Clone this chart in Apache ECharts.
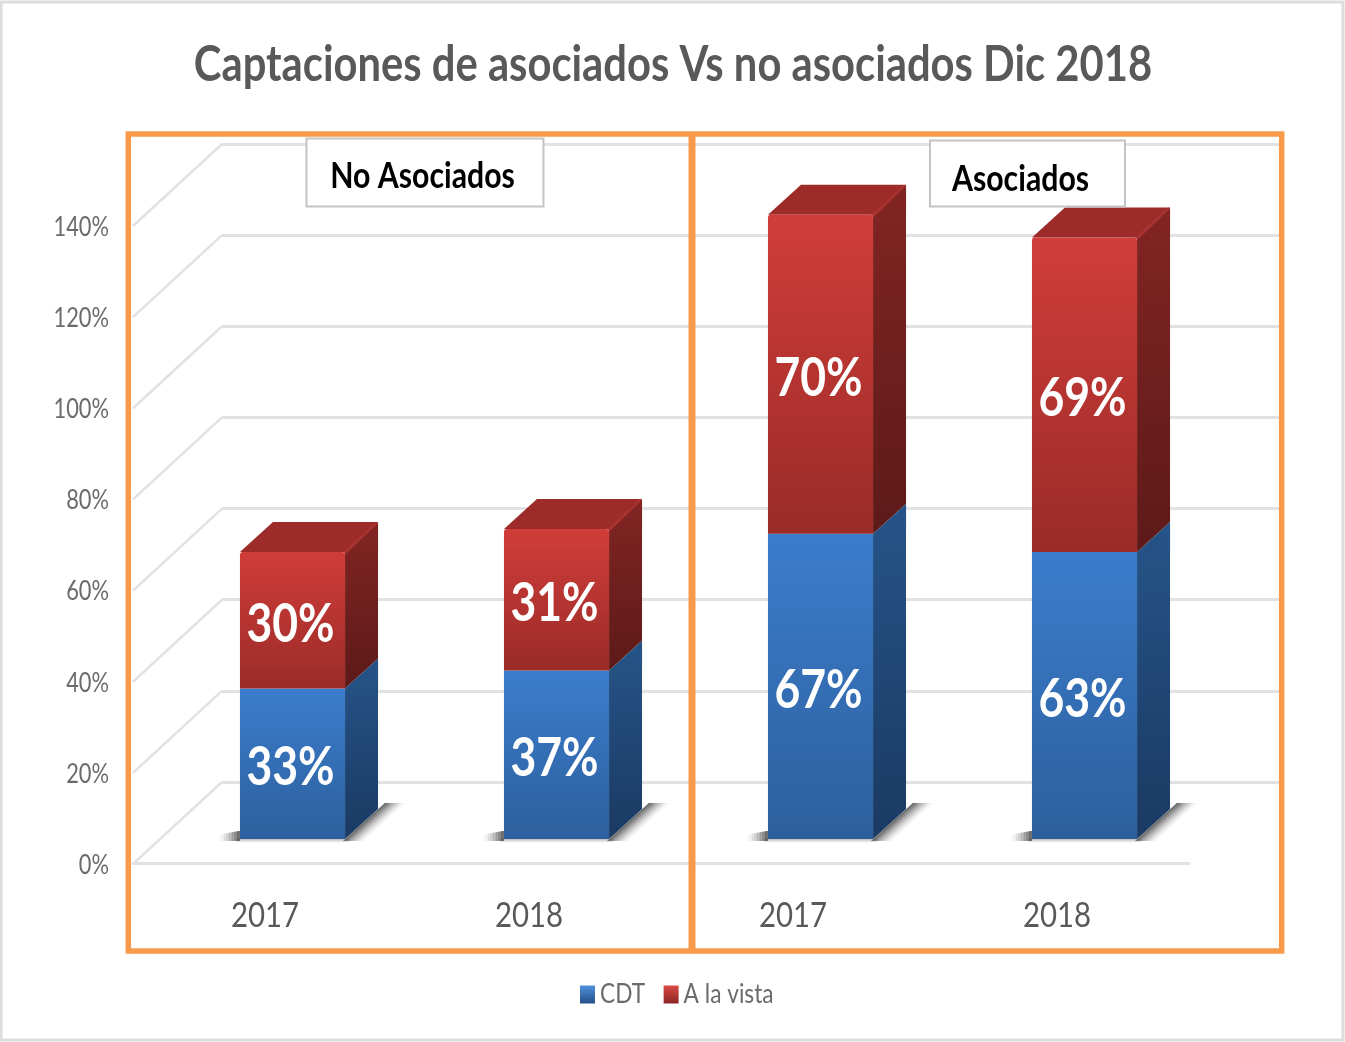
<!DOCTYPE html>
<html>
<head>
<meta charset="utf-8">
<style>html,body{margin:0;padding:0;background:#fff}#c{width:1345px;height:1042px}#c canvas{filter:blur(0.55px)}</style>
<script src="https://cdn.jsdelivr.net/npm/echarts@6/dist/echarts.min.js"></script>
</head>
<body>
<div id="c"></div>
<script>
var categories = ['2017', '2018', '2017', '2018'];
var cdtValues = [33, 37, 67, 63];
var vistaValues = [30, 31, 70, 69];
var yTicks = [0, 20, 40, 60, 80, 100, 120, 140];
var panelNames = ['No Asociados', 'Asociados'];
var titleText = 'Captaciones de asociados Vs no asociados Dic 2018';

var FONT = 'Lato,sans-serif';
var TEXT_SQUEEZE = 0.84;
var DX = 33, DY = -30, ORANGE = '#f99a4a', GRID = '#e2e2e2';

function grad(a, b) {
  return {type: 'linear', x: 0, y: 0, x2: 0, y2: 1, colorStops: [{offset: 0, color: a}, {offset: 1, color: b}]};
}

function barRenderer(frontGrad, sideGrad, withTop, withShadow) {
  return function (params, api) {
    var i = api.value(0), start = api.value(1), end = api.value(2);
    var p0 = api.coord([i, start]), p1 = api.coord([i, end]);
    var w = api.size([1, 0])[0] * 0.398;
    var xl = p0[0] - w / 2, xr = p0[0] + w / 2, yb = p0[1], yt = p1[1];
    var kids = [];
    if (withShadow) {
      // soft floor shadow, built from fading bands
      var slope = DX / -DY, n = 8, band = 2.6;
      for (var k = 0; k < n; k++) {
        var a = 0.72 * Math.pow(1 - k / n, 1.6);
        var x0 = k * band, x1 = x0 + band + 0.3;
        kids.push({type: 'polygon', silent: true, shape: {points: [
          [xr - 2 + x0, yb + 2], [xr - 2 + x1, yb + 2],
          [xr - 2 + 38 * slope + x1, yb - 36], [xr - 2 + 38 * slope + x0, yb - 36]]},
          style: {fill: 'rgba(55,55,55,' + a.toFixed(3) + ')'}});
        kids.push({type: 'rect', silent: true, shape: {x: xl - x1, y: yb - 8 + k * 0.5, width: band + 0.3, height: 10 - k * 0.5},
          style: {fill: 'rgba(55,55,55,' + a.toFixed(3) + ')'}});
      }
      kids.push({type: 'rect', shape: {x: xl - 4, y: yb, width: w + 8, height: 4},
        style: {fill: grad('rgba(80,80,80,0.4)', 'rgba(120,120,120,0)')}, silent: true});
    }
    kids.push({type: 'polygon', shape: {points: [[xr, yb], [xr + DX, yb + DY], [xr + DX, yt + DY], [xr, yt]]}, style: {fill: sideGrad}});
    if (withTop) {
      kids.push({type: 'polygon', shape: {points: [[xl, yt], [xl + DX, yt + DY], [xr + DX, yt + DY], [xr, yt]]}, style: {fill: '#9c2b29'}});
      kids.push({type: 'polygon', shape: {points: [[xr - 2, yt], [xr + DX - 2, yt + DY], [xr + DX, yt + DY + 1], [xr + 1, yt + 2]]}, style: {fill: '#a8322f'}});
    }
    kids.push({type: 'rect', shape: {x: xl, y: yt, width: w, height: yb - yt, r: withTop ? [3, 3, 0, 0] : 0}, style: {fill: frontGrad}});
    kids.push({type: 'text', style: {
      text: (end - start) + '%', x: p0[0] - 2, y: (yb + yt) / 2 + 4.5, align: 'center', verticalAlign: 'middle',
      fill: '#fff', font: 'bold 53px ' + FONT}, z2: 10});
    return {type: 'group', children: kids};
  };
}

var blueFront = grad('#3b7dcc', '#2d5f9d');
var blueSide = grad('#265488', '#1a3a63');
var redFront = grad('#d13d39', '#9a2b28');
var redSide = grad('#822523', '#5c1a18');

var cdtData = cdtValues.map(function (v, i) { return [i, 0, v]; });
var vistaData = vistaValues.map(function (v, i) { return [i, cdtValues[i], cdtValues[i] + v]; });

var option = {
  animation: false,
  backgroundColor: '#fff',
  title: {
    text: titleText, left: 668, top: 60, textAlign: 'center', textVerticalAlign: 'middle',
    textStyle: {fontFamily: FONT, fontSize: 49.7, fontWeight: 'bold', color: '#595959'}
  },
  legend: {
    left: 580, top: 981, padding: 0, itemWidth: 15, itemHeight: 18, itemGap: 10, icon: 'rect',
    data: ['CDT', 'A la vista'],
    textStyle: {fontFamily: FONT, fontSize: 27, color: '#6b6b6b'}
  },
  grid: [
    {left: 133, width: 1056, top: 225, height: 638},
    {left: 222, width: 1058, top: 144, height: 638},
    {left: 160.5, width: 1056, top: 201, height: 638},
    {left: 133, width: 1056, top: 227.5, height: 638}
  ],
  xAxis: [
    {gridIndex: 0, type: 'category', data: categories, axisTick: {show: false},
      axisLine: {lineStyle: {color: GRID, width: 3}},
      axisLabel: {margin: 35, fontFamily: FONT, fontSize: 35, color: '#595959', interval: 0}},
    {gridIndex: 1, type: 'category', data: categories, show: false},
    {gridIndex: 2, type: 'category', data: categories, show: false},
    {gridIndex: 3, type: 'category', data: categories, show: false}
  ],
  yAxis: [
    {gridIndex: 0, type: 'value', min: 0, max: 140, interval: 20, show: false},
    {gridIndex: 1, type: 'value', min: 0, max: 140, interval: 20, axisLabel: {show: false}, axisLine: {show: false}, axisTick: {show: false},
      splitLine: {show: true, lineStyle: {color: GRID, width: 3}}},
    {gridIndex: 2, type: 'value', min: 0, max: 140, interval: 20, show: false},
    {gridIndex: 3, type: 'value', min: 0, max: 140, interval: 20, splitLine: {show: false}, axisLine: {show: false}, axisTick: {show: false},
      axisLabel: {margin: 24, formatter: '{value}%', fontFamily: FONT, fontSize: 26, color: '#6b6b6b'}}
  ],
  series: [
    {
      type: 'custom', name: 'walls', xAxisIndex: 0, yAxisIndex: 0, silent: true, z: 1,
      data: yTicks.map(function (t) { return [0, t]; }),
      encode: {x: 0, y: 1},
      renderItem: function (params, api) {
        var p = api.coord([0, api.value(1)]);
        return {type: 'line', shape: {x1: params.coordSys.x, y1: p[1] + 1, x2: params.coordSys.x + 89, y2: p[1] - 81},
          style: {stroke: GRID, lineWidth: 2.5}};
      }
    },
    {type: 'custom', name: 'CDT', xAxisIndex: 2, yAxisIndex: 2, z: 3, data: cdtData, encode: {x: 0, y: [1, 2]},
      itemStyle: {color: grad('#4f90dc', '#24508a')}, renderItem: barRenderer(blueFront, blueSide, false, true)},
    {type: 'custom', name: 'A la vista', xAxisIndex: 2, yAxisIndex: 2, z: 4, data: vistaData, encode: {x: 0, y: [1, 2]},
      itemStyle: {color: grad('#dc4a45', '#8a2624')}, renderItem: barRenderer(redFront, redSide, true, false)}
  ],
  graphic: [
    {type: 'rect', z: 20, shape: {x: 1, y: 2, width: 1342, height: 1038}, style: {fill: 'none', stroke: '#dcdcdc', lineWidth: 3}},
    {type: 'rect', z: 21, shape: {x: 128.3, y: 134, width: 1153.4, height: 817}, style: {fill: 'none', stroke: ORANGE, lineWidth: 5.5}},
    {type: 'line', z: 21, shape: {x1: 692, y1: 134, x2: 692, y2: 951}, style: {stroke: ORANGE, lineWidth: 7}},
    {type: 'rect', z: 22, shape: {x: 306.5, y: 138.5, width: 237, height: 68}, style: {fill: '#fff', stroke: '#c4c4c4', lineWidth: 2}},
    {type: 'text', z: 23, style: {text: panelNames[0], x: 422.5, y: 176.5, align: 'center', verticalAlign: 'middle', fill: '#000', font: 'bold 36px ' + FONT}},
    {type: 'rect', z: 22, shape: {x: 930, y: 140.5, width: 195, height: 66}, style: {fill: '#fff', stroke: '#c4c4c4', lineWidth: 2}},
    {type: 'text', z: 23, style: {text: panelNames[1], x: 1020.5, y: 179.5, align: 'center', verticalAlign: 'middle', fill: '#000', font: 'bold 36px ' + FONT}}
  ]
};
var chart = echarts.init(document.getElementById('c'), null, {renderer: 'canvas'});
chart.setOption(option);

// The reference's lettering is horizontally condensed: narrow every text about its own anchor.
var zr = chart.getZr();
zr.storage.traverse(function (el) {
  if (el.type === 'text') {
    el.originX = (el.style && el.style.x) || 0;
    el.scaleX = TEXT_SQUEEZE;
    el.markRedraw();
  }
});
zr.refreshImmediately();
</script>
</body>
</html>
